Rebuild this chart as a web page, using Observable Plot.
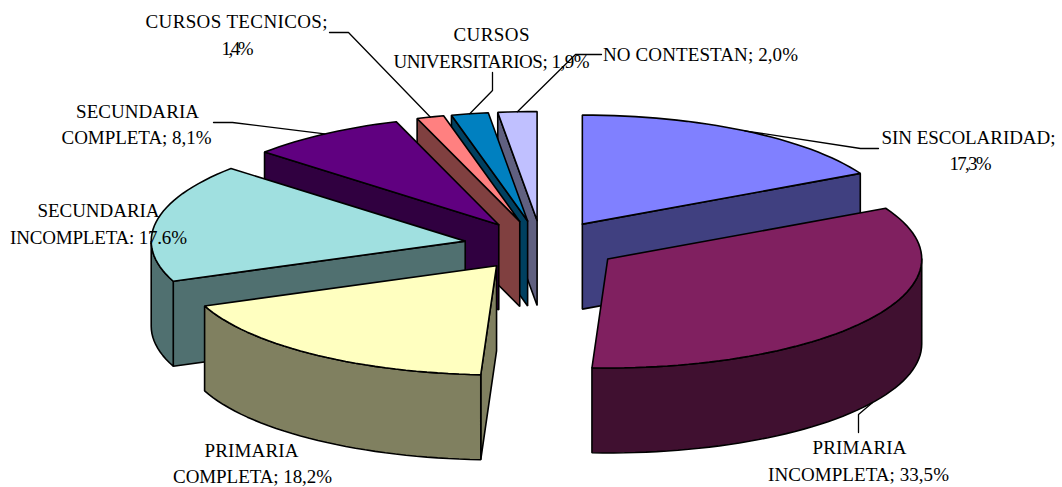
<!DOCTYPE html>
<html>
<head>
<meta charset="utf-8">
<script src="https://cdn.jsdelivr.net/npm/d3@7"></script>
<script src="https://cdn.jsdelivr.net/npm/@observablehq/plot@0.6"></script>
<style>
  html, body { margin: 0; padding: 0; background: #fff; }
  svg { display: block; }
</style>
</head>
<body>
<div id="chart"></div>
<script>
// Education level shares
const categories = ["SIN ESCOLARIDAD", "PRIMARIA INCOMPLETA", "PRIMARIA COMPLETA", "SECUNDARIA INCOMPLETA",
  "SECUNDARIA COMPLETA", "CURSOS TECNICOS", "CURSOS UNIVERSITARIOS", "NO CONTESTAN"];
const shares = [17.3, 33.5, 18.2, 17.6, 8.1, 1.4, 1.9, 2.0];
const topColors = ["#8080FF", "#802060", "#FFFFC0", "#A0E0E0", "#600080", "#FF8080", "#0080C0", "#C0C0FF"];
const sideColors = ["#404080", "#401030", "#808060", "#507070", "#300040", "#804040", "#004060", "#606080"];

// Label lines as printed, with their placement and set width
const labelLines = ["SIN ESCOLARIDAD;", "17,3%", "PRIMARIA", "INCOMPLETA; 33,5%", "PRIMARIA", "COMPLETA; 18,2%",
  "SECUNDARIA", "INCOMPLETA: 17.6%", "SECUNDARIA", "COMPLETA; 8,1%", "CURSOS TECNICOS;", "1,4%",
  "CURSOS", "UNIVERSITARIOS; 1,9%", "NO CONTESTAN; 2,0%"];
const lineX = [968, 970, 859, 858, 251, 252, 98, 98, 137, 136, 236, 237, 491, 491, 700];
const lineY = [137, 163, 447, 474, 450, 476, 210, 237, 111, 137, 21, 48, 34, 61, 54];
const lineWidth = [174, 42, 94, 181, 94, 159, 122, 177, 123, 150, 182, 32, 76, 196, 195];

// Leader lines: label end, then elbow; the third point is found on the slice rim
const leaderStart = [[878, 148], [858, 432], null, null, [213, 122], [329, 32], [492, 72], [601, 54]];
const leaderElbow = [[860, 148], [858, 414], null, null, [232, 122], [348, 32], [492, 90], [575, 54]];

// Exploded pie geometry, in pixels of the x and y scales
const center = [541.5, 245];
const explodeX = 78, explodeY = 25;
const radiusX = 314, radiusY = 109, depth = 85;
const paintOrder = [7, 6, 5, 4, 0, 1, 3, 2];

const rad = (deg) => deg * Math.PI / 180;
const total = d3.sum(shares);
let running = 0;
const slices = shares.map((share, i) => {
  const start = running / total * 360;
  running += share;
  const end = running / total * 360;
  const mid = (start + end) / 2;
  return {
    i, name: categories[i], start, end, mid,
    apex: [center[0] + explodeX * Math.sin(rad(mid)), center[1] - explodeY * Math.cos(rad(mid))]
  };
});

const rim = (s, angle, drop = 0) => [
  s.apex[0] + radiusX * Math.sin(rad(angle)),
  s.apex[1] - radiusY * Math.cos(rad(angle)) + drop
];
const arc = (s, from, to, drop = 0) => {
  const n = Math.max(2, Math.ceil((to - from) / 2));
  return d3.range(n + 1).map((k) => rim(s, from + (to - from) * k / n, drop));
};
const polygon = (points, fill) => Plot.line([...points, points[0]], {
  x: (d) => d[0], y: (d) => d[1], fill, stroke: "#000", strokeWidth: 1.6, strokeLinejoin: "miter"
});

const sliceMarks = paintOrder.flatMap((i) => {
  const s = slices[i];
  const side = sideColors[i];
  const marks = [];
  const dropped = (p) => [p[0], p[1] + depth];
  // Cut faces that turn toward the viewer
  if (Math.sin(rad(s.start)) < 0) {
    const e = rim(s, s.start);
    marks.push(polygon([s.apex, e, dropped(e), dropped(s.apex)], side));
  }
  if (Math.sin(rad(s.end)) > 0) {
    const e = rim(s, s.end);
    marks.push(polygon([s.apex, e, dropped(e), dropped(s.apex)], side));
  }
  // Outer wall, only along the front half of the ellipse
  const from = Math.max(s.start, 90), to = Math.min(s.end, 270);
  if (from < to) {
    marks.push(polygon([...arc(s, from, to), ...arc(s, from, to, depth).reverse()], side));
  }
  marks.push(polygon([s.apex, ...arc(s, s.start, s.end)], topColors[i]));
  return marks;
});

const leaderMarks = slices.flatMap((s, i) => {
  if (!leaderStart[i]) return [];
  const front = s.mid > 90 && s.mid < 270;
  const end = rim(s, s.mid, front ? depth : 0);
  return [Plot.line([leaderStart[i], leaderElbow[i], end], {
    x: (d) => d[0], y: (d) => d[1], stroke: "#000", strokeWidth: 1.3
  })];
});

const labels = labelLines.map((text, i) => ({ text, x: lineX[i], y: lineY[i] }));

const chart = Plot.plot({
  width: 1062,
  height: 487,
  margin: 0,
  x: { domain: [0, 1062], range: [0, 1062], axis: null },
  y: { domain: [0, 487], range: [0, 487], axis: null },
  marks: [
    ...sliceMarks,
    ...leaderMarks,
    Plot.text(labels, {
      x: "x", y: "y", text: "text", fill: "#000",
      fontFamily: "Liberation Serif", fontSize: 19, textAnchor: "middle"
    })
  ]
});
chart.style.background = "#fff";
document.getElementById("chart").appendChild(chart);

// Each label line is set to its own width, as the tight spacing of the original type
const textNodes = chart.querySelectorAll("text");
textNodes.forEach((node, i) => {
  node.setAttribute("textLength", lineWidth[i]);
  node.setAttribute("lengthAdjust", "spacing");
});
</script>
</body>
</html>
